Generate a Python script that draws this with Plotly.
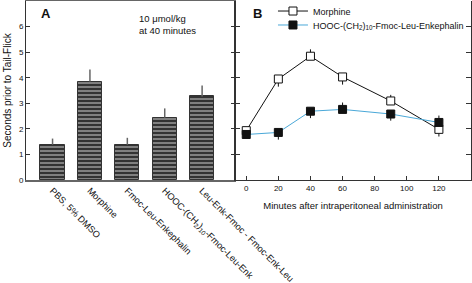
import plotly.graph_objects as go

# Panel A data
bar_labels = ["PBS, 5% DMSO", "Morphine", "Fmoc-Leu-Enkephalin",
              "HOOC-(CH<sub>2</sub>)<sub>10</sub>-Fmoc-Leu-Enk",
              "Leu-Enk-Fmoc - Fmoc-Enk-Leu"]
bar_values = [1.38, 3.85, 1.38, 2.44, 3.27]
bar_errors = [0.24, 0.47, 0.27, 0.36, 0.43]

# Panel B data
minutes = [0, 20, 40, 60, 90, 120]
morphine = [1.93, 3.95, 4.84, 4.03, 3.09, 1.98]
morphine_err_up = [0.0, 0.0, 0.27, 0.0, 0.24, 0.0]
morphine_err_dn = [0.0, 0.30, 0.0, 0.30, 0.0, 0.28]
enk = [1.78, 1.86, 2.69, 2.76, 2.58, 2.25]
enk_err_up = [0.0, 0.0, 0.0, 0.27, 0.0, 0.27]
enk_err_dn = [0.0, 0.28, 0.27, 0.0, 0.26, 0.0]

y_ticks = [0, 1, 2, 3, 4, 5, 6]
x_ticks_b = [0, 20, 40, 60, 80, 100, 120]

FONT = "Liberation Sans, Arial, sans-serif"

fig = go.Figure()

fig.add_trace(go.Bar(
    x=list(range(len(bar_labels))), y=bar_values, width=0.65,
    marker=dict(color="#3c3c3c", line=dict(color="#333", width=1),
                pattern=dict(shape="-", fgcolor="#f4f4f4", bgcolor="#333333",
                             size=4, solidity=0.4)),
    error_y=dict(type="data", array=bar_errors, arrayminus=[0]*5,
                 symmetric=False, color="#666", thickness=1.5, width=0),
    xaxis="x", yaxis="y", showlegend=False))

fig.add_trace(go.Scatter(
    x=minutes, y=morphine, mode="lines+markers", name="Morphine",
    line=dict(color="#111", width=1),
    marker=dict(symbol="square", size=8, color="white", line=dict(color="#111", width=1)),
    error_y=dict(type="data", array=morphine_err_up, arrayminus=morphine_err_dn,
                 symmetric=False, color="#111", thickness=1, width=0),
    xaxis="x2", yaxis="y2", legend="legend"))

fig.add_trace(go.Scatter(
    x=minutes, y=enk, mode="lines+markers",
    name="HOOC-(CH<sub>2</sub>)<sub>10</sub>-Fmoc-Leu-Enkephalin",
    line=dict(color="#4aa8d8", width=1),
    marker=dict(symbol="square", size=8, color="#111", line=dict(color="#111", width=1)),
    error_y=dict(type="data", array=enk_err_up, arrayminus=enk_err_dn,
                 symmetric=False, color="#111", thickness=1, width=0),
    xaxis="x2", yaxis="y2", legend="legend2"))

split = 0.4697
leg_common = dict(xanchor="left", yanchor="middle", bgcolor="rgba(0,0,0,0)",
                  font=dict(size=9), itemwidth=30)

fig.update_layout(
    width=472, height=283,
    margin=dict(l=26, r=1, t=1, b=103, autoexpand=False),
    paper_bgcolor="white", plot_bgcolor="white",
    font=dict(family=FONT, size=9, color="#111"),
    bargap=0,
    xaxis=dict(domain=[0, split], range=[-0.71, 4.88], automargin=False,
               tickmode="array", tickvals=list(range(len(bar_labels))),
               ticktext=bar_labels, tickangle=45, ticks="",
               tickfont=dict(size=9.2),
               showline=True, linecolor="#666", linewidth=1.5, mirror=True,
               showgrid=False, zeroline=False),
    yaxis=dict(domain=[0, 1], range=[0, 7], tickvals=y_ticks, automargin=False,
               ticks="inside", ticklen=4, tickcolor="#333",
               showline=True, linecolor="#333", linewidth=1, mirror="ticks",
               showgrid=False, zeroline=False, tickfont=dict(size=8),
               title=dict(text="Seconds prior to Tail-Flick", font=dict(size=10),
                          standoff=5)),
    xaxis2=dict(domain=[split, 1], range=[-7, 140], tickvals=x_ticks_b,
                automargin=False,
                ticks="inside", ticklen=4, tickcolor="#333",
                showline=True, linecolor="#333", linewidth=1,
                showgrid=False, zeroline=False, tickfont=dict(size=8),
                anchor="y2",
                title=dict(text="Minutes after intraperitoneal administration",
                           font=dict(size=9.5), standoff=10)),
    yaxis2=dict(domain=[0, 1], range=[0, 7], tickvals=y_ticks, anchor="x2",
                automargin=False,
                ticks="inside", ticklen=5, tickcolor="#333",
                showline=True, linecolor="#333", linewidth=1, mirror="ticks",
                showticklabels=False, showgrid=False, zeroline=False),
    legend=dict(x=0.555, y=0.944, **leg_common),
    legend2=dict(x=0.555, y=0.866, **leg_common),
    annotations=[
        dict(text="<b>A</b>", xref="paper", yref="paper", x=0.03, y=0.93,
             xanchor="left", yanchor="middle", showarrow=False, font=dict(size=13)),
        dict(text="<b>B</b>", xref="paper", yref="paper", x=0.505, y=0.93,
             xanchor="left", yanchor="middle", showarrow=False, font=dict(size=13)),
        dict(text="10 μmol/kg<br>at 40 minutes", xref="paper", yref="paper",
             x=0.25, y=0.945, xanchor="left", yanchor="top", align="left",
             showarrow=False, font=dict(size=9.5)),
    ],
)

fig.write_html("out.html", config={"displayModeBar": False},
               post_script="document.body.style.margin='0';document.body.style.overflow='hidden';")
